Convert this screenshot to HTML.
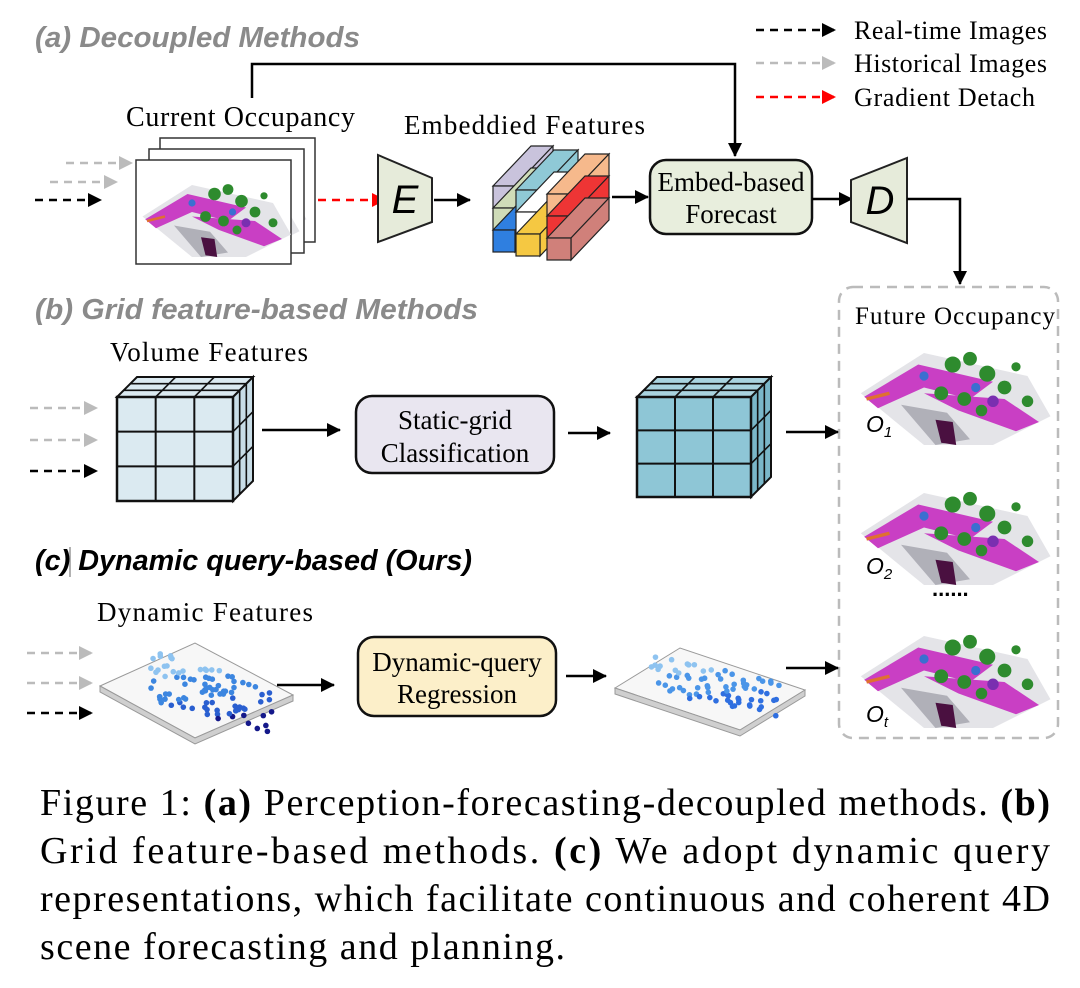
<!DOCTYPE html>
<html><head><meta charset="utf-8"><style>
html,body{margin:0;padding:0;background:#fff}
svg{display:block}
.t{font-family:"Liberation Serif",serif;fill:#000}
.h{font-family:"Liberation Sans",sans-serif;font-weight:bold;font-style:italic}
</style></head><body>
<svg id="s" width="1080" height="988" viewBox="0 0 1080 988" xmlns="http://www.w3.org/2000/svg">
<defs>
<marker id="AB" markerWidth="14" markerHeight="14" refX="13" refY="7" orient="auto" markerUnits="userSpaceOnUse"><path d="M0,0 L14,7 L0,14z" fill="#000"/></marker>
<marker id="AG" markerWidth="14" markerHeight="14" refX="13" refY="7" orient="auto" markerUnits="userSpaceOnUse"><path d="M0,0 L14,7 L0,14z" fill="#bbb"/></marker>
<marker id="AR" markerWidth="14" markerHeight="14" refX="13" refY="7" orient="auto" markerUnits="userSpaceOnUse"><path d="M0,0 L14,7 L0,14z" fill="#f00"/></marker>
<g id="occ">
<path d="M5,55 L60,20 L150,40 L170,75 L120,100 L60,100 Z" fill="#e4e4e8"/>
<path d="M8,58 L55,30 L120,45 L100,60 L60,50 L20,68Z" fill="#c93fc4"/>
<path d="M60,55 L130,60 L160,80 L140,88 L90,70Z" fill="#c93fc4"/>
<path d="M40,65 L80,72 L100,95 L70,100Z" fill="#b0b0b8"/>
<circle cx="85" cy="30" r="7" fill="#2e8b2e"/><circle cx="100" cy="25" r="6" fill="#2e8b2e"/><circle cx="115" cy="38" r="7" fill="#2e8b2e"/>
<circle cx="130" cy="50" r="6" fill="#2e8b2e"/><circle cx="75" cy="55" r="6" fill="#2e8b2e"/><circle cx="95" cy="60" r="6" fill="#2e8b2e"/>
<circle cx="150" cy="62" r="5" fill="#2e8b2e"/><circle cx="110" cy="70" r="5" fill="#2e8b2e"/><circle cx="140" cy="32" r="4" fill="#2e8b2e"/>
<circle cx="60" cy="40" r="4" fill="#3a6fd0"/><circle cx="105" cy="50" r="4" fill="#3a6fd0"/><circle cx="120" cy="62" r="5" fill="#7a2fb0"/>
<path d="M70,78 L85,80 L88,100 L75,98Z" fill="#4a1040"/>
<path d="M10,60 L30,55" stroke="#e07030" stroke-width="3"/>
</g>
</defs>
<rect width="1080" height="988" fill="#fff"/>

<text x="35" y="47" class="h" font-size="29" fill="#8a8a8a" textLength="325" lengthAdjust="spacingAndGlyphs">(a) Decoupled Methods</text>
<text x="35" y="319" class="h" font-size="29" fill="#8a8a8a" textLength="443" lengthAdjust="spacingAndGlyphs">(b) Grid feature-based Methods</text>
<text x="35" y="570" class="h" font-size="29" fill="#000" textLength="437" lengthAdjust="spacingAndGlyphs">(c) Dynamic query-based (Ours)</text>
<line x1="70" y1="547" x2="70" y2="577" stroke="#666" stroke-width="1"/>

<line x1="756" y1="30" x2="835" y2="30" stroke="#000" stroke-width="2.5" stroke-dasharray="8,6" marker-end="url(#AB)"/>
<line x1="756" y1="63" x2="835" y2="63" stroke="#bbb" stroke-width="2.5" stroke-dasharray="8,6" marker-end="url(#AG)"/>
<line x1="756" y1="97" x2="835" y2="97" stroke="#f00" stroke-width="2.5" stroke-dasharray="8,6" marker-end="url(#AR)"/>
<text x="854" y="39" class="t" font-size="26" textLength="193">Real-time Images</text>
<text x="854" y="72" class="t" font-size="26" textLength="193">Historical Images</text>
<text x="854" y="106" class="t" font-size="26" textLength="181">Gradient Detach</text>

<polyline points="252,98 252,64 735,64 735,156" fill="none" stroke="#000" stroke-width="2.5" marker-end="url(#AB)"/>
<text x="126" y="126" class="t" font-size="28" textLength="229">Current Occupancy</text>
<line x1="66" y1="163" x2="132" y2="163" stroke="#bbb" stroke-width="2.5" stroke-dasharray="8,6" marker-end="url(#AG)"/>
<line x1="50" y1="182" x2="117" y2="182" stroke="#bbb" stroke-width="2.5" stroke-dasharray="8,6" marker-end="url(#AG)"/>
<line x1="35" y1="200" x2="101" y2="200" stroke="#000" stroke-width="2.5" stroke-dasharray="8,6" marker-end="url(#AB)"/>
<rect x="160" y="138" width="155" height="104" fill="#fff" stroke="#333" stroke-width="1.5"/>
<use href="#occ" transform="translate(145,148) scale(0.95)"/>
<rect x="149" y="149" width="155" height="104" fill="#fff" stroke="#333" stroke-width="1.5"/>
<use href="#occ" transform="translate(138,160) scale(0.95)"/>
<rect x="136" y="160" width="155" height="104" fill="#fff" stroke="#333" stroke-width="1.5"/>
<use href="#occ" transform="translate(138,167) scale(0.9)"/>
<line x1="318" y1="200" x2="385" y2="200" stroke="#f00" stroke-width="2.5" stroke-dasharray="8,6" marker-end="url(#AR)"/>
<path d="M378,155 L432,178 L432,222 L378,242Z" fill="#e6ebda" stroke="#222" stroke-width="2"/>
<text x="405" y="213" font-family="Liberation Sans,sans-serif" font-style="italic" font-size="40" text-anchor="middle">E</text>
<line x1="434" y1="200" x2="470" y2="200" stroke="#000" stroke-width="2.5" marker-end="url(#AB)"/>
<text x="404" y="134" class="t" font-size="27" textLength="241">Embeddied Features</text>
<g id="bars" stroke="#222" stroke-width="1.2"></g>
<line x1="612" y1="197" x2="648" y2="197" stroke="#000" stroke-width="2.5" marker-end="url(#AB)"/>
<rect x="650" y="160" width="162" height="74" rx="16" fill="#e8eedd" stroke="#111" stroke-width="2.5"/>
<text x="731" y="191" class="t" font-size="27" text-anchor="middle">Embed-based</text>
<text x="731" y="223" class="t" font-size="27" text-anchor="middle">Forecast</text>
<line x1="812" y1="199" x2="852" y2="199" stroke="#000" stroke-width="2.5" marker-end="url(#AB)"/>
<path d="M851,180 L907,158 L907,243 L851,222Z" fill="#e6ebda" stroke="#222" stroke-width="2"/>
<text x="880" y="214" font-family="Liberation Sans,sans-serif" font-style="italic" font-size="40" text-anchor="middle">D</text>
<polyline points="907,199 960,199 960,284" fill="none" stroke="#000" stroke-width="2.5" marker-end="url(#AB)"/>

<rect x="839" y="287" width="219" height="451" rx="14" fill="none" stroke="#bbb" stroke-width="2.5" stroke-dasharray="10,7"/>
<text x="855" y="324" class="t" font-size="25" textLength="200">Future Occupancy</text>
<use href="#occ" transform="translate(855,330) scale(1.15)"/>
<use href="#occ" transform="translate(855,470) scale(1.15)"/>
<use href="#occ" transform="translate(855,613) scale(1.15)"/>
<text x="866" y="432" font-family="Liberation Sans,sans-serif" font-style="italic" font-size="23">O<tspan font-size="15" dy="5">1</tspan></text>
<text x="866" y="574" font-family="Liberation Sans,sans-serif" font-style="italic" font-size="23">O<tspan font-size="15" dy="5">2</tspan></text>
<text x="866" y="722" font-family="Liberation Sans,sans-serif" font-style="italic" font-size="23">O<tspan font-size="15" dy="5">t</tspan></text>
<text x="932" y="596" font-family="Liberation Sans,sans-serif" font-weight="bold" font-size="22">......</text>

<text x="110" y="361" class="t" font-size="27" textLength="198">Volume Features</text>
<line x1="30" y1="408" x2="97" y2="408" stroke="#bbb" stroke-width="2.5" stroke-dasharray="8,6" marker-end="url(#AG)"/>
<line x1="30" y1="440" x2="97" y2="440" stroke="#bbb" stroke-width="2.5" stroke-dasharray="8,6" marker-end="url(#AG)"/>
<line x1="30" y1="471" x2="97" y2="471" stroke="#000" stroke-width="2.5" stroke-dasharray="8,6" marker-end="url(#AB)"/>
<g id="cube1"></g>
<line x1="262" y1="430" x2="340" y2="430" stroke="#000" stroke-width="2.5" marker-end="url(#AB)"/>
<rect x="356" y="396" width="198" height="77" rx="16" fill="#e9e6f0" stroke="#111" stroke-width="2.5"/>
<text x="455" y="429" class="t" font-size="27" text-anchor="middle">Static-grid</text>
<text x="455" y="462" class="t" font-size="27" text-anchor="middle">Classification</text>
<line x1="568" y1="433" x2="610" y2="433" stroke="#000" stroke-width="2.5" marker-end="url(#AB)"/>
<g id="cube2"></g>
<line x1="786" y1="432" x2="838" y2="432" stroke="#000" stroke-width="2.5" marker-end="url(#AB)"/>

<text x="97" y="621" class="t" font-size="27" textLength="216">Dynamic Features</text>
<line x1="27" y1="653" x2="92" y2="653" stroke="#bbb" stroke-width="2.5" stroke-dasharray="8,6" marker-end="url(#AG)"/>
<line x1="27" y1="683" x2="92" y2="683" stroke="#bbb" stroke-width="2.5" stroke-dasharray="8,6" marker-end="url(#AG)"/>
<line x1="27" y1="713" x2="92" y2="713" stroke="#000" stroke-width="2.5" stroke-dasharray="8,6" marker-end="url(#AB)"/>
<g id="plane1"></g>
<line x1="277" y1="685" x2="334" y2="685" stroke="#000" stroke-width="2.5" marker-end="url(#AB)"/>
<rect x="358" y="637" width="198" height="79" rx="16" fill="#fcefc9" stroke="#111" stroke-width="2.5"/>
<text x="457" y="671" class="t" font-size="27" text-anchor="middle">Dynamic-query</text>
<text x="457" y="703" class="t" font-size="27" text-anchor="middle">Regression</text>
<line x1="566" y1="676" x2="606" y2="676" stroke="#000" stroke-width="2.5" marker-end="url(#AB)"/>
<g id="plane2"></g>
<line x1="786" y1="668" x2="838" y2="668" stroke="#000" stroke-width="2.5" marker-end="url(#AB)"/>

<g class="t" font-size="38">
<text x="40" y="815" textLength="1010" lengthAdjust="spacing">Figure 1: <tspan font-weight="bold">(a)</tspan> Perception-forecasting-decoupled methods. <tspan font-weight="bold">(b)</tspan></text>
<text x="40" y="863" textLength="1010" lengthAdjust="spacing">Grid feature-based methods. <tspan font-weight="bold">(c)</tspan> We adopt dynamic query</text>
<text x="40" y="911" textLength="1010" lengthAdjust="spacing">representations, which facilitate continuous and coherent 4D</text>
<text x="40" y="959" textLength="525" lengthAdjust="spacing">scene forecasting and planning.</text>
</g>
</svg>
<script>
var NS="http://www.w3.org/2000/svg";
function el(p,t,a){var e=document.createElementNS(NS,t);for(var k in a)e.setAttribute(k,a[k]);p.appendChild(e);return e;}
var bars=document.getElementById('bars');
var cols=[{x:493,w:22,c:["#c9c3dc","#cfdcb8","#2f7fe0"]},{x:516,w:24,c:["#8fc9d6","#ffffff","#f5c842"]},{x:547,w:24,c:["#f6b98c","#ee3535","#d0807a"]}];
var dx=38,dy=-40,h=22;
cols.forEach(function(col,ci){
  for(var r=0;r<3;r++){
    var x=col.x, y=190+r*h+ (ci==0?-4:ci==1?0:4);
    var c=col.c[r];
    el(bars,'path',{d:'M'+x+','+y+' L'+(x+dx)+','+(y+dy)+' L'+(x+col.w+dx)+','+(y+dy)+' L'+(x+col.w)+','+y+'Z',fill:c});
    el(bars,'path',{d:'M'+(x+col.w)+','+y+' L'+(x+col.w+dx)+','+(y+dy)+' L'+(x+col.w+dx)+','+(y+dy+h)+' L'+(x+col.w)+','+(y+h)+'Z',fill:c});
    el(bars,'rect',{x:x,y:y,width:col.w,height:h,fill:c});
  }
});
function cube(g,x,y,w,h,ox,oy,fill,top,side){
  var G=document.getElementById(g);
  var n=3;
  el(G,'path',{d:'M'+x+','+y+' l'+ox+','+(-oy)+' l'+w+',0 l'+(-ox)+','+oy+'Z',fill:top,stroke:'#111','stroke-width':2});
  el(G,'path',{d:'M'+(x+w)+','+y+' l'+ox+','+(-oy)+' l0,'+h+' l'+(-ox)+','+oy+'Z',fill:side,stroke:'#111','stroke-width':2});
  el(G,'rect',{x:x,y:y,width:w,height:h,fill:fill,stroke:'#111','stroke-width':2.5});
  for(var i=1;i<n;i++){
    el(G,'line',{x1:x+w*i/n,y1:y,x2:x+w*i/n,y2:y+h,stroke:'#111','stroke-width':2});
    el(G,'line',{x1:x,y1:y+h*i/n,x2:x+w,y2:y+h*i/n,stroke:'#111','stroke-width':2});
    el(G,'line',{x1:x+w*i/n,y1:y,x2:x+w*i/n+ox,y2:y-oy,stroke:'#111','stroke-width':1.6});
    el(G,'line',{x1:x+ox*i/n,y1:y-oy*i/n,x2:x+w+ox*i/n,y2:y-oy*i/n,stroke:'#111','stroke-width':1.6});
    el(G,'line',{x1:x+w+ox*i/n,y1:y-oy*i/n,x2:x+w+ox*i/n,y2:y+h-oy*i/n,stroke:'#111','stroke-width':1.6});
    el(G,'line',{x1:x+w,y1:y+h*i/n,x2:x+w+ox,y2:y+h*i/n-oy,stroke:'#111','stroke-width':1.6});
  }
}
cube('cube1',117,397,116,104,20,20,'#dbeaf1','#dbeaf1','#c8dde7');
cube('cube2',637,397,114,100,20,20,'#8ec6d6','#a9d3df','#7ab7c9');
function plane(g,pts,dots,seed){
  var G=document.getElementById(g);
  var p=pts;
  el(G,'path',{d:'M'+p[0]+' L'+p[1]+' L'+p[2]+' L'+p[3]+'Z',fill:'#f7f7f7',stroke:'#999','stroke-width':1});
  var a=p[0].split(','),b=p[3].split(','),c=p[2].split(',');
  el(G,'path',{d:'M'+a[0]+','+a[1]+' L'+b[0]+','+b[1]+' L'+c[0]+','+c[1]+' L'+c[0]+','+(+c[1]+6)+' L'+b[0]+','+(+b[1]+6)+' L'+a[0]+','+(+a[1]+6)+'Z',fill:'#cfcfcf',stroke:'#999','stroke-width':1});
  var s=seed;function rnd(){s=(s*9301+49297)%233280;return s/233280;}
  for(var i=0;i<dots.n;i++){
    var u=rnd(),v=rnd();
    var x=dots.x0+u*dots.w, y=dots.y0+v*dots.h+u*dots.sk;
    var t=(v+u)/2;
    var col=t<0.3?'#8ec3f0':t<0.55?'#3c86e0':t<0.75?'#2a5fd0':'#14188a';
    if(dots.light) col=t<0.3?'#8ec3f0':t<0.6?'#4a95e8':'#2f6fe0';
    el(G,'circle',{cx:x,cy:y,r:2.8,fill:col});
  }
}
plane('plane1',['100,686','195,643','293,695','195,738'],{n:95,x0:150,w:125,y0:650,h:50,sk:35},7);
plane('plane2',['615,688','680,648','805,690','740,730'],{n:75,x0:650,w:130,y0:652,h:38,sk:30,light:1},11);
</script>
</body></html>
